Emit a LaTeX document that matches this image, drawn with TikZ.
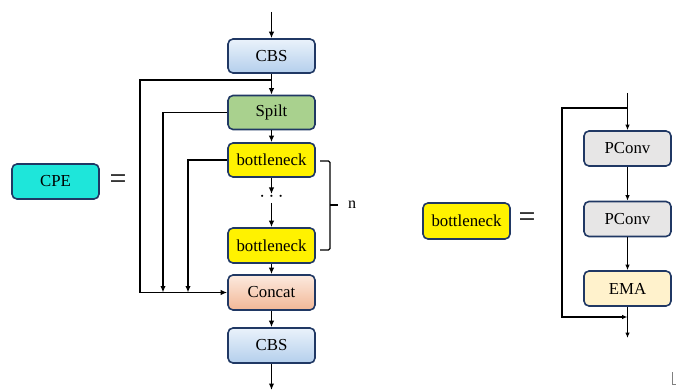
\documentclass[tikz,border=0pt]{standalone}
\usepackage{fontspec}
\setmainfont{Liberation Serif}
\usetikzlibrary{arrows.meta}
\definecolor{boxborder}{HTML}{203864}
\definecolor{cpecol}{HTML}{1EE6DA}
\definecolor{spiltcol}{HTML}{A9D18E}
\definecolor{pconvcol}{HTML}{E7E6E6}
\definecolor{emacol}{HTML}{FFF2CC}
\definecolor{cbstop}{HTML}{EAF2FB}
\definecolor{cbsbot}{HTML}{B4CFEC}
\definecolor{cattop}{HTML}{FCEADF}
\definecolor{catbot}{HTML}{F2B796}
\begin{document}
\begin{tikzpicture}[x=1pt,y=-1pt,
  blk/.style={draw=boxborder, line width=1.6pt, rounded corners=5pt,
    minimum width=87pt, minimum height=34pt, inner sep=0pt,
    font=\fontsize{16.8}{19}\selectfont},
  cbsbox/.style={blk, top color=cbstop, bottom color=cbsbot},
  catbox/.style={blk, top color=cattop, bottom color=catbot},
  conn/.style={line width=1.6pt, line join=miter},
  arr/.style={conn, -{Latex[length=6.5pt,width=5.5pt]}},
  thin/.style={line width=1.2pt, line join=miter},
  arrs/.style={thin, -{Latex[length=5.5pt,width=4.5pt]}},
  lbl/.style={font=\fontsize{16.8}{19}\selectfont, inner sep=0pt}
]
\useasboundingbox (0,0) rectangle (677,390);

% ---- CPE definition ----
\node[blk, fill=cpecol, minimum height=35pt] (cpe) at (55.5,181.5) {CPE};
\node[font=\fontsize{30}{32}\selectfont, inner sep=0pt] (eq1) at (118,182) {=};

\node[cbsbox] (cbs1) at (271.5,56) {CBS};
\node[blk, fill=spiltcol] (spilt) at (271.5,112.5) {Spilt};
\node[blk, fill=yellow] (bn1) at (271.5,160) {bottleneck};
\node[blk, fill=yellow, minimum height=35pt] (bn2) at (271.5,245.5) {bottleneck};
\node[catbox, minimum height=35pt] (concat) at (271.5,292.5) {Concat};
\node[cbsbox, minimum height=35pt] (cbs2) at (271.5,345.5) {CBS};
\node[lbl, font=\fontsize{20}{22}\selectfont] (dots) at (271.5,197) {$\cdots$};

\coordinate (top) at (271.5,12);
\coordinate (bot) at (271.5,390);
\coordinate (j1) at (271.5,80);
\coordinate (o1) at (140,80);
\coordinate (o2) at (140,292.5);
\coordinate (c2) at (163,292.5);
\coordinate (c3) at (188,292.5);
\coordinate (d1) at (271.5,194);
\coordinate (d2) at (271.5,203);

\draw[arr] (top) -- (cbs1);
\draw[arr] (cbs1) -- (spilt);
\draw[arr] (spilt) -- (bn1);
\draw[arr] (bn1) -- (d1);
\draw[arr] (d2) -- (bn2);
\draw[arr] (bn2) -- (concat);
\draw[arr] (concat) -- (cbs2);
\draw[arr] (cbs2) -- (bot);
\draw[arr] (j1) -- (o1) -- (o2) -- (concat.west);
\draw[arr] (spilt.west) -| (c2);
\draw[arr] (bn1.west) -| (c3);

% bracket n
\coordinate (br1) at (320,161);
\coordinate (br2) at (330,161);
\coordinate (br3) at (330,250);
\coordinate (br4) at (320,250);
\coordinate (brm) at (330,205);
\coordinate (brt) at (338,205);
\draw[thin, rounded corners=1.5pt] (br1) -- (br2) -- (br3) -- (br4);
\draw[thin] (brm) -- (brt);
\node[lbl, font=\fontsize{16}{18}\selectfont] (n) at (352,205) {n};

% ---- bottleneck definition ----
\node[blk, fill=yellow, minimum height=36pt] (bnr) at (466.5,221) {bottleneck};
\node[font=\fontsize{30}{32}\selectfont, inner sep=0pt] (eq2) at (527,220) {=};

\node[blk, fill=pconvcol, minimum height=35pt] (pc1) at (627.5,148.5) {PConv};
\node[blk, fill=pconvcol, minimum height=35pt] (pc2) at (627.5,219) {PConv};
\node[blk, fill=emacol, minimum height=35pt] (ema) at (627.5,288.5) {EMA};

\coordinate (rt) at (627.5,93);
\coordinate (rj) at (627.5,108);
\coordinate (rl1) at (562,108);
\coordinate (rl2) at (562,317);
\coordinate (rj2) at (627.5,317);
\coordinate (rb) at (627.5,338);

\draw[arrs] (rt) -- (pc1);
\draw[arrs] (pc1) -- (pc2);
\draw[arrs] (pc2) -- (ema);
\draw[arrs] (ema) -- (rb);
\draw[arrs] (rj) -- (rl1) -- (rl2) -- (rj2);

% small corner mark
\coordinate (m1) at (672,372);
\coordinate (m2) at (672,384);
\coordinate (m3) at (676,384);
\draw[gray, line width=0.6pt] (m1) -- (m2) -- (m3);
\end{tikzpicture}
\end{document}
